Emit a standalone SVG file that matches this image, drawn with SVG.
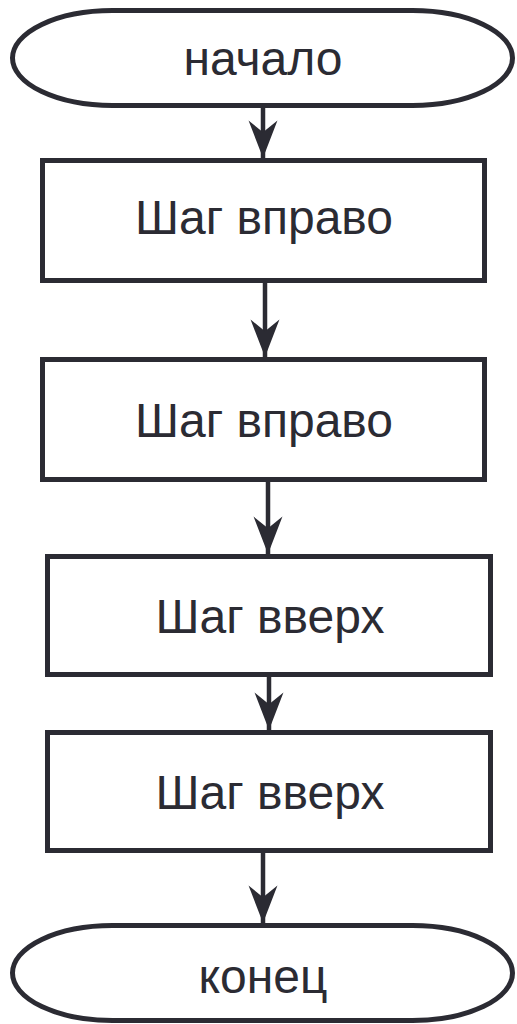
<svg xmlns="http://www.w3.org/2000/svg" width="517" height="1024" viewBox="0 0 517 1024">
<defs>
<style>
.shape{fill:#ffffff;stroke:#2b2b33;stroke-width:5}
.lbl{font-family:"Liberation Sans",Arial,sans-serif;font-size:48px;fill:#2b2b33;text-anchor:middle}
.conn{stroke:#2b2b33;stroke-width:4.5;fill:none}
</style>
<marker id="arr" markerUnits="userSpaceOnUse" markerWidth="30" markerHeight="40" viewBox="-14 -36 28 37" refX="0" refY="0" orient="auto-start-reverse" overflow="visible">
<path d="M0,0 L-13.5,-35 L0,-24 L13.5,-35 Z" fill="#2b2b33" transform="rotate(-90)"/>
</marker>
</defs>
<rect width="517" height="1024" fill="#ffffff"/>
<g id="connectors">
<line class="conn" x1="263" y1="106" x2="263" y2="158" marker-end="url(#arr)"/>
<line class="conn" x1="265" y1="283" x2="265" y2="357" marker-end="url(#arr)"/>
<line class="conn" x1="268" y1="482" x2="268" y2="554" marker-end="url(#arr)"/>
<line class="conn" x1="269" y1="671" x2="269" y2="730" marker-end="url(#arr)"/>
<line class="conn" x1="263" y1="853" x2="263" y2="923" marker-end="url(#arr)"/>
</g>
<g id="start">
<rect class="shape" x="12.5" y="10.5" width="500" height="95" rx="100" ry="47.5"/>
<text class="lbl" x="263" y="75">начало</text>
</g>
<g id="step1">
<rect class="shape" x="42.5" y="160.5" width="442" height="120"/>
<text class="lbl" x="264" y="234">Шаг вправо</text>
</g>
<g id="step2">
<rect class="shape" x="42.5" y="359.5" width="442" height="120"/>
<text class="lbl" x="264" y="437">Шаг вправо</text>
</g>
<g id="step3">
<rect class="shape" x="47.5" y="556.5" width="443" height="118"/>
<text class="lbl" x="270" y="633">Шаг вверх</text>
</g>
<g id="step4">
<rect class="shape" x="47.5" y="732.5" width="443" height="118"/>
<text class="lbl" x="270" y="809">Шаг вверх</text>
</g>
<g id="end">
<rect class="shape" x="12.5" y="925.5" width="500" height="95" rx="100" ry="47.5"/>
<text class="lbl" x="263" y="993">конец</text>
</g>
</svg>
